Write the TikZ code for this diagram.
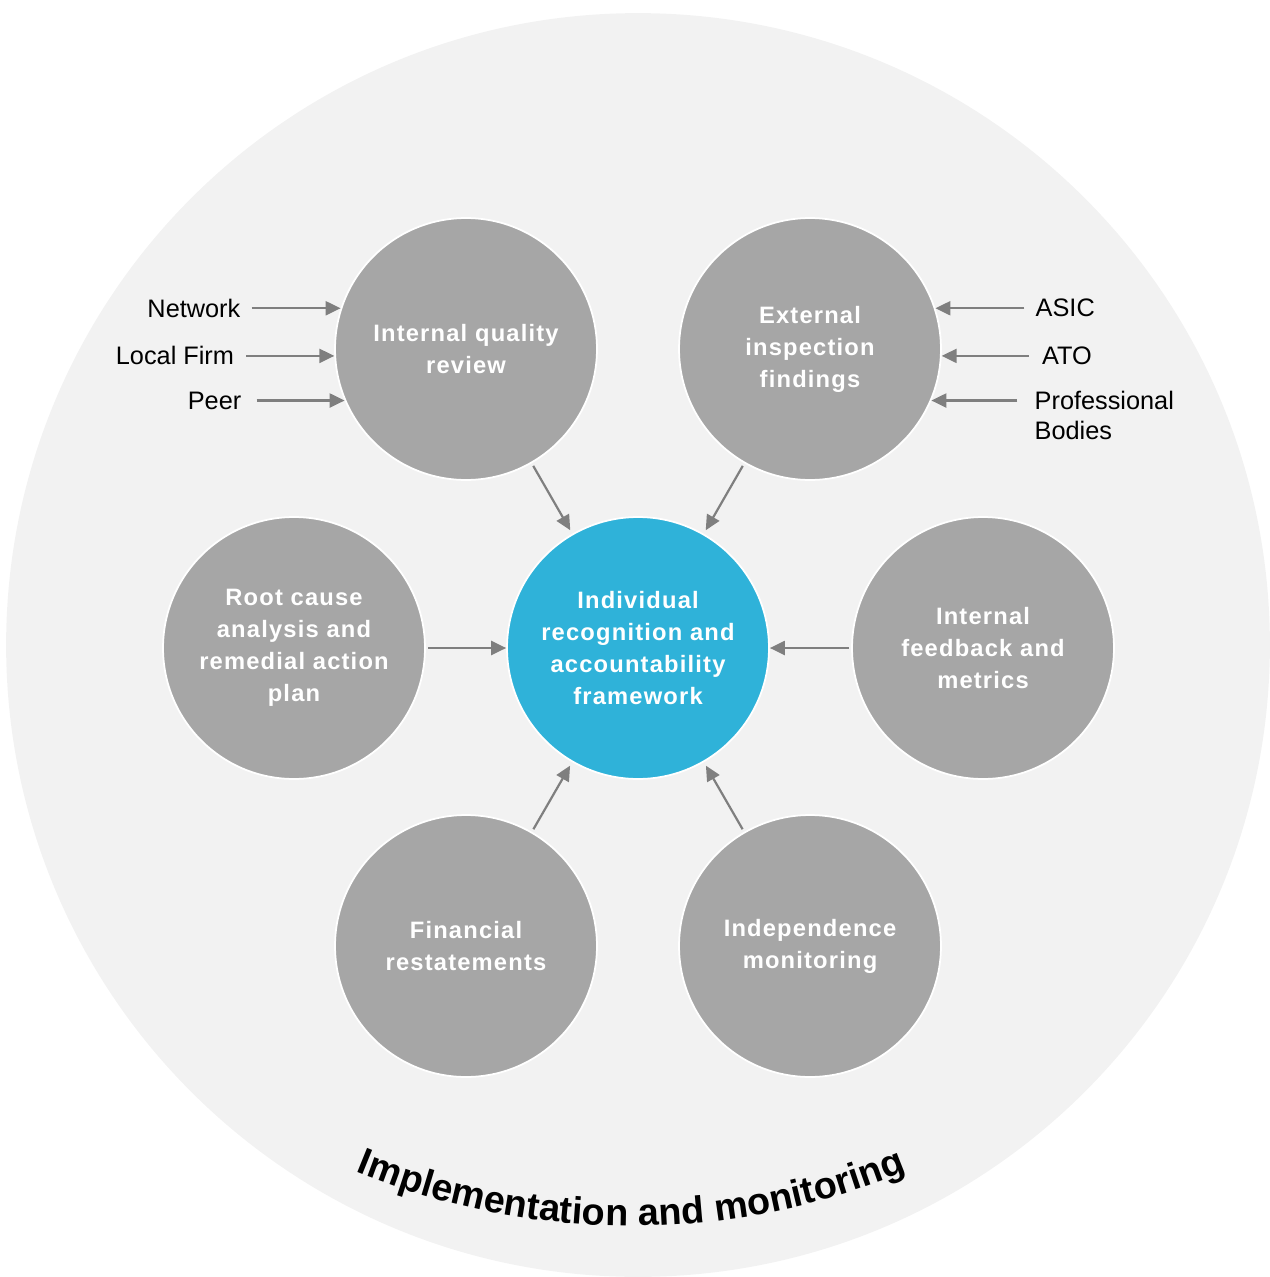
\documentclass[tikz,border=0pt]{standalone}
\usepackage{fontspec}
\setmainfont{Liberation Sans}
\usepackage{tikz}
\usetikzlibrary{calc,arrows.meta,decorations.text}
\definecolor{sback}{HTML}{F2F2F2}
\definecolor{sgrey}{HTML}{A6A6A6}
\definecolor{sblue}{HTML}{2FB2D9}
\definecolor{sarrow}{HTML}{7F7F7F}
\newfontfamily\circfont{Liberation Sans}[LetterSpace=5]

\begin{document}
\begin{tikzpicture}[x=0.02cm, y=0.02cm,
    CIR/.style={circle, draw=white, line width=1pt, fill=sgrey, minimum size=5.24cm, inner sep=0pt, align=center, text=white, font=\circfont\bfseries\fontsize{13.5}{18.2}\selectfont},
    LBL/.style={inner sep=0pt, align=left, font=\fontsize{14.4}{17}\selectfont},
    ARR/.style={draw=sarrow, line width=1.25pt, -{Triangle[length=0.3cm, width=0.28cm]}},
    RIM/.style={decorate, decoration={text along path, text align=center, text={|\bfseries\fontsize{21.5}{25}\selectfont|Implementation and monitoring}}}
    ]
        \useasboundingbox (0,0) rectangle (1269,-1277);
        \fill[sback] (638,-645) circle (12.64cm);
        \node[CIR, fill=sblue] (IRA) at (638,-648) {Individual\\recognition and\\accountability\\framework};
        \node[CIR] (IQR) at (466,-349) {Internal quality\\review};
        \node[CIR] (EIF) at (810,-349) {External\\inspection\\findings};
        \node[CIR] (RCA) at (294,-648) {Root cause\\analysis and\\remedial action\\plan};
        \node[CIR] (IFM) at (983,-648) {Internal\\feedback and\\metrics};
        \node[CIR] (FRS) at (466,-946) {Financial\\restatements};
        \node[CIR] (IDM) at (810,-946) {Independence\\monitoring};
        \draw[ARR, shorten <=0.06cm, shorten >=0.08cm] (IQR) -- (IRA);
        \draw[ARR, shorten <=0.06cm, shorten >=0.08cm] (EIF) -- (IRA);
        \draw[ARR, shorten <=0.06cm, shorten >=0.08cm] (FRS) -- (IRA);
        \draw[ARR, shorten <=0.06cm, shorten >=0.08cm] (IDM) -- (IRA);
        \draw[ARR, shorten <=0.04cm] (RCA) -- (IRA);
        \draw[ARR, shorten <=0.04cm] (IFM) -- (IRA);
        \node[LBL, anchor=east] (NET) at ([xshift=-2cm]IQR.162) {Network};
        \node[LBL, anchor=east] (LOC) at ([xshift=-2cm]IQR.183) {Local Firm};
        \node[LBL, anchor=east] (PEE) at ([xshift=-2.06cm]IQR.203) {Peer};
        \draw[ARR, shorten <=0.22cm] (NET.east) -- (IQR.162);
        \draw[ARR, shorten <=0.24cm] (LOC.east) -- (IQR.183);
        \draw[ARR, shorten <=0.3cm] (PEE.east) -- (IQR.203);
        \node[LBL, anchor=west] (ASI) at ([xshift=2cm]EIF.18) {ASIC};
        \node[LBL, anchor=west] (ATO) at ([xshift=2cm]EIF.357) {ATO};
        \node[LBL, anchor=west] (PRB) at ([xshift=2.06cm, yshift=-0.3cm]EIF.337) {Professional\\Bodies};
        \draw[ARR, shorten <=0.22cm] (ASI.west) -- (EIF.18);
        \draw[ARR, shorten <=0.26cm] (ATO.west) -- (EIF.357);
        \draw[ARR, shorten <=0.34cm] (PRB.west |- EIF.337) -- (EIF.337);
        \path[RIM] ([shift={(235:14.44cm)}]631,-504) arc[start angle=235, end angle=305, radius=14.44cm];
    \end{tikzpicture}
\end{document}
